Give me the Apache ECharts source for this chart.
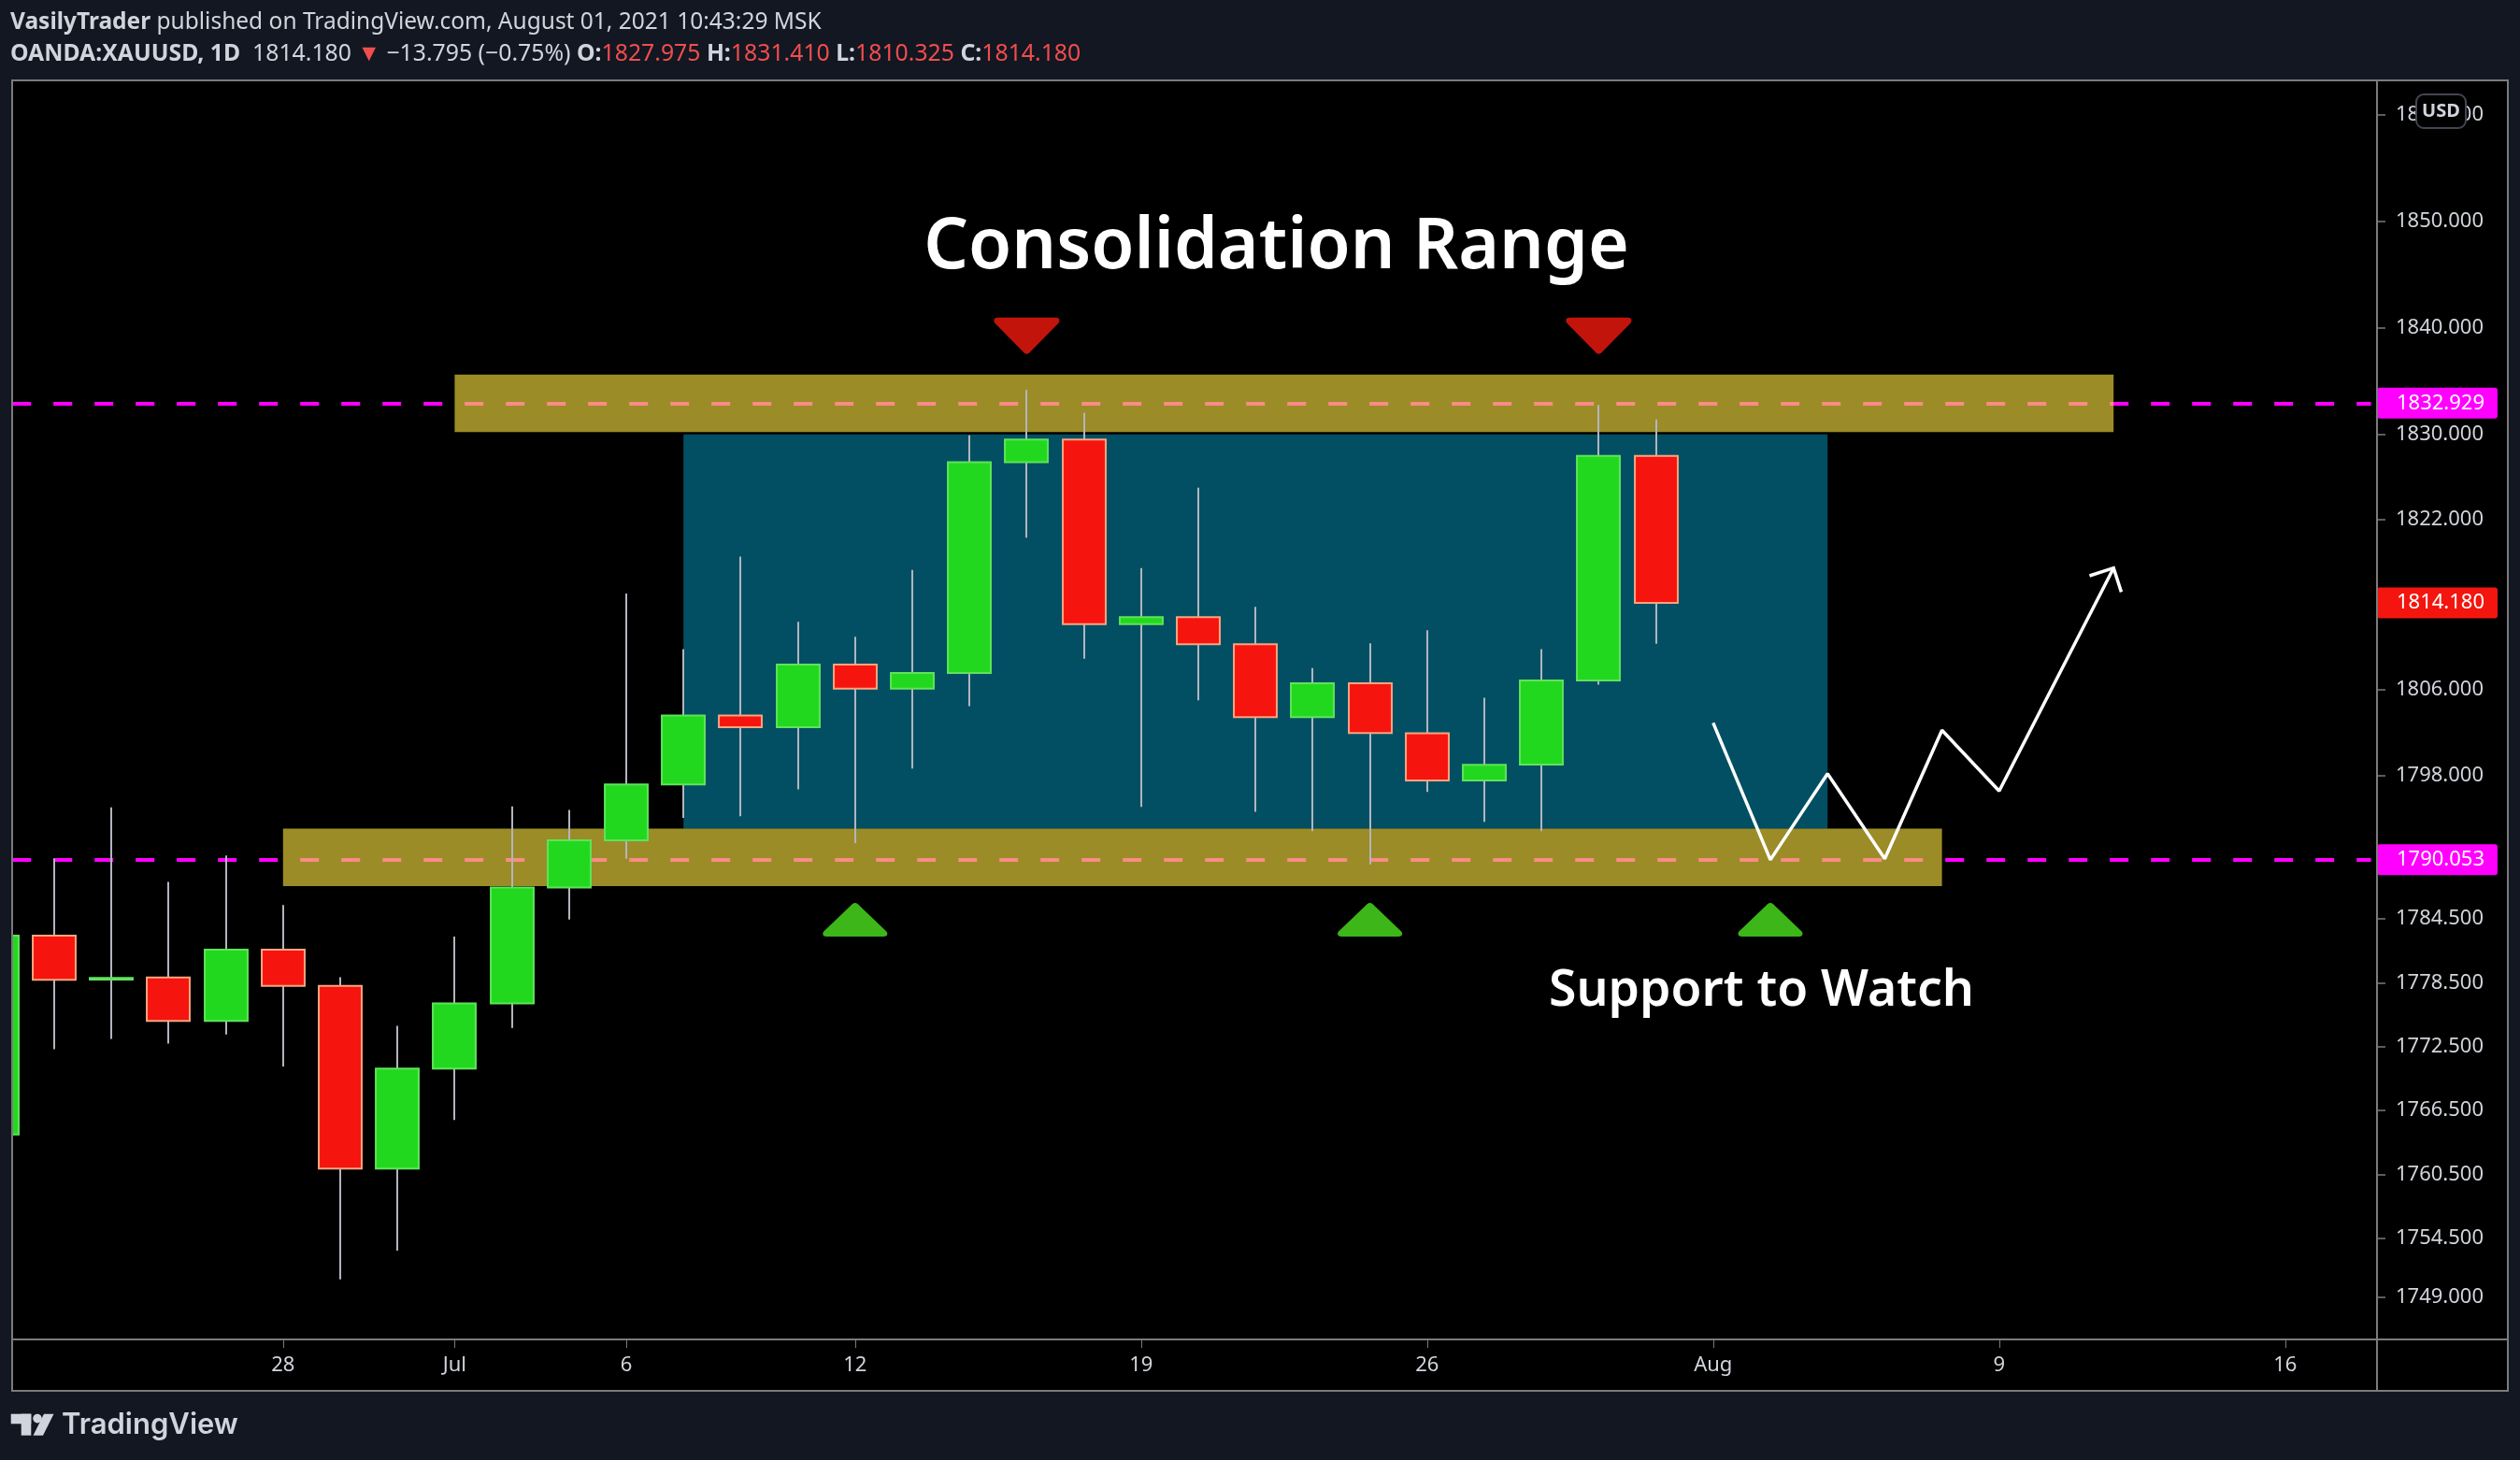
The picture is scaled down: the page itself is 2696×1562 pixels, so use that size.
<!DOCTYPE html>
<html><head><meta charset="utf-8">
<script src="https://cdn.jsdelivr.net/npm/echarts@6.0.0/dist/echarts.min.js"></script>
<style>html,body{margin:0;padding:0;background:#131722;}#chart{width:2696px;height:1562px;}</style>
</head><body><div id="chart"></div>
<script>
// ---- categories (trading days, incl. future area) ----
const categories = [
  '2021-06-21','2021-06-22','2021-06-23','2021-06-24','2021-06-25',
  '2021-06-28','2021-06-29','2021-06-30','2021-07-01','2021-07-02',
  '2021-07-05','2021-07-06','2021-07-07','2021-07-08','2021-07-09',
  '2021-07-12','2021-07-13','2021-07-14','2021-07-15','2021-07-16',
  '2021-07-19','2021-07-20','2021-07-21','2021-07-22','2021-07-23',
  '2021-07-26','2021-07-27','2021-07-28','2021-07-29','2021-07-30',
  '2021-08-02','2021-08-03','2021-08-04','2021-08-05','2021-08-06',
  '2021-08-09','2021-08-10','2021-08-11','2021-08-12','2021-08-13',
  '2021-08-16','2021-08-17'
];
// ---- OHLC (XAUUSD daily) ----
const candleDates = categories.slice(0, 30);
const opens  = [1764.25,1782.92,1778.80,1778.99,1774.91,1781.62,1778.22,1761.05,1770.44,1776.57,1787.44,1791.89,1797.13,1803.60,1802.50,1808.38,1806.12,1807.60,1827.38,1829.51,1812.17,1812.83,1810.30,1803.44,1806.62,1801.93,1797.49,1798.99,1806.90,1827.975];
const closes = [1782.92,1778.79,1778.95,1774.91,1781.62,1778.22,1761.05,1770.44,1776.57,1787.44,1791.89,1797.13,1803.60,1802.50,1808.38,1806.12,1807.60,1827.38,1829.51,1812.17,1812.83,1810.30,1803.44,1806.62,1801.96,1797.49,1798.96,1806.90,1827.98,1814.18];
const lows   = [1762.40,1772.26,1773.22,1772.79,1773.65,1770.64,1750.66,1753.35,1765.62,1774.25,1784.45,1790.14,1793.98,1794.14,1796.67,1791.61,1798.61,1804.48,1820.29,1808.94,1795.02,1805.02,1794.55,1792.74,1789.62,1796.42,1793.61,1792.74,1806.50,1810.325];
const highs  = [1785.10,1790.18,1794.97,1787.98,1790.45,1785.81,1779.02,1774.45,1782.85,1795.07,1794.73,1815.05,1809.83,1818.52,1812.39,1811.00,1817.26,1829.90,1834.18,1832.03,1817.45,1825.00,1813.81,1808.06,1810.37,1811.60,1805.26,1809.83,1832.77,1831.41];
// ---- axis ticks ----
const xTickDates = ['2021-06-28','2021-07-01','2021-07-06','2021-07-12','2021-07-19','2021-07-26','2021-08-02','2021-08-09','2021-08-16'];
const xTickTexts = ['28','Jul','6','12','19','26','Aug','9','16'];
const yTickValues = [1860,1850,1840,1830,1822,1806,1798,1784.5,1778.5,1772.5,1766.5,1760.5,1754.5,1749];
// ---- levels & drawings ----
const priceLevels = [1832.929, 1790.053];
const lastPrice = 1814.18;
const resistanceZone = ['2021-07-01','2021-08-11',1830.22,1835.62];
const supportZone    = ['2021-06-28','2021-08-06',1787.59,1792.98];
const rangeBox       = ['2021-07-07','2021-08-04',1792.98,1829.99];
const topMarkDates = ['2021-07-15','2021-07-29'];
const topMarkValue = 1839.26;
const bottomMarkDates = ['2021-07-12','2021-07-23','2021-08-03'];
const bottomMarkValue = 1784.42;
const projDates  = ['2021-08-02','2021-08-03','2021-08-04','2021-08-05','2021-08-06','2021-08-09','2021-08-11'];
const projValues = [1802.91,1790.05,1798.14,1790.14,1802.22,1796.51,1817.45];

const candleData = candleDates.map((d, i) => [d, opens[i], closes[i], lows[i], highs[i]]);

const FONT = "'Noto Sans', sans-serif";
const TXT = '#d1d4dc';
const GRID = '#7b7b7b';

function renderCandle(params, api) {
  const xi = api.value(0);
  const o = api.value(1), c = api.value(2), l = api.value(3), h = api.value(4);
  const pO = api.coord([xi, o]), pC = api.coord([xi, c]);
  const pL = api.coord([xi, l]), pH = api.coord([xi, h]);
  const bw = api.size([1, 0])[0] * 0.75;
  const up = c >= o;
  const top = Math.min(pO[1], pC[1]);
  const hgt = Math.max(Math.abs(pO[1] - pC[1]), 0.5);
  const cx = Math.round(pO[0]);
  return {
    type: 'group',
    children: [
      {type: 'line', shape: {x1: cx, y1: pH[1], x2: cx, y2: pL[1]}, style: {stroke: '#b2b5be', lineWidth: 2}},
      {type: 'rect', shape: {x: cx - bw / 2, y: top, width: bw, height: hgt},
       style: {fill: up ? '#22d81e' : '#f5140e', stroke: up ? '#5fe35b' : '#f8a57f', lineWidth: 2}}
    ]
  };
}

function renderArrowHead(params, api) {
  const n = projDates.length;
  const tip = api.coord([categories.indexOf(projDates[n - 1]), projValues[n - 1]]);
  const prev = api.coord([categories.indexOf(projDates[n - 2]), projValues[n - 2]]);
  let dx = prev[0] - tip[0], dy = prev[1] - tip[1];
  const len = Math.hypot(dx, dy); dx /= len; dy /= len;
  const L = 27, a = Math.PI / 4;
  const rot = (ang) => [tip[0] + L * (dx * Math.cos(ang) - dy * Math.sin(ang)), tip[1] + L * (dx * Math.sin(ang) + dy * Math.cos(ang))];
  return {type: 'polyline', shape: {points: [rot(a), tip, rot(-a)]}, style: {stroke: '#ffffff', lineWidth: 3.5, fill: null, lineJoin: 'miter'}};
}

const downTri = 'path://M4,0 L66,0 C70,0 71,3 69,6 L38,38 C36,40 34,40 32,38 L1,6 C-1,3 0,0 4,0 Z';
const upTri = 'path://M32,2 C34,0 36,0 38,2 L69,34 C71,37 70,40 66,40 L4,40 C0,40 -1,37 1,34 Z';

const chart = echarts.init(document.getElementById('chart'), null, {renderer: 'canvas'});
chart.setOption({
  backgroundColor: '#131722',
  animation: false,
  grid: {left: -33.8, right: 159.4, top: 86, bottom: 129, containLabel: false, outerBoundsMode: 'none'},
  xAxis: {
    type: 'category', data: categories, boundaryGap: true,
    axisLine: {show: false},
    axisTick: {show: true, alignWithLabel: true, length: 9, lineStyle: {color: GRID, width: 1},
      interval: (i, v) => xTickDates.indexOf(v) >= 0},
    axisLabel: {show: true, color: TXT, fontSize: 22, fontFamily: FONT, margin: 17,
      interval: (i, v) => xTickDates.indexOf(v) >= 0,
      formatter: (v) => { const k = xTickDates.indexOf(v); return k >= 0 ? xTickTexts[k] : ''; }},
    splitLine: {show: false}
  },
  yAxis: {
    type: 'value', position: 'right', offset: 6.4, min: 1745.01, max: 1863.24, scale: true,
    axisLine: {show: false},
    axisTick: {show: true, length: 9, lineStyle: {color: GRID, width: 1.5}, customValues: yTickValues},
    axisLabel: {show: true, color: TXT, fontSize: 22, fontFamily: FONT, margin: 20,
      customValues: yTickValues, formatter: (v) => Number(v).toFixed(3)},
    splitLine: {show: false}
  },
  series: [
    {
      type: 'custom', name: 'XAUUSD', renderItem: renderCandle, data: candleData,
      encode: {x: 0, y: [1, 2, 3, 4]}, z: 4, clip: false, silent: true,
      markArea: {silent: true, z: 1, label: {show: false}, itemStyle: {color: '#024f63'},
        data: [[{xAxis: rangeBox[0], yAxis: rangeBox[3]}, {xAxis: rangeBox[1], yAxis: rangeBox[2]}]]},
      markLine: {
        silent: true, z: 2, symbol: ['none', 'none'], animation: false, precision: 3,
        lineStyle: {color: '#ff00ff', width: 4, type: [20, 24], dashOffset: 41},
        label: {show: true, position: 'end', distance: 6.4,
          color: '#ffffff', backgroundColor: '#ff00ff', fontSize: 22, fontFamily: FONT,
          padding: [6, 14, 5, 21], borderRadius: 3},
        emphasis: {disabled: true},
        data: [
          {yAxis: priceLevels[0], label: {formatter: priceLevels[0].toFixed(3)}},
          {yAxis: priceLevels[1], label: {formatter: priceLevels[1].toFixed(3)}},
          {yAxis: lastPrice, lineStyle: {color: 'rgba(0,0,0,0)'}, label: {formatter: lastPrice.toFixed(3), backgroundColor: '#f4150f'}}
        ]
      }
    },
    {
      type: 'line', name: 'projection', data: projDates.map((d, i) => [d, projValues[i]]),
      showSymbol: false, symbol: 'none', z: 5, silent: true,
      lineStyle: {color: '#ffffff', width: 3.5}, itemStyle: {color: '#ffffff'},
      markArea: {silent: true, z: 3, label: {show: false}, itemStyle: {color: 'rgba(246,221,61,0.63)'},
        data: [
          [{xAxis: resistanceZone[0], yAxis: resistanceZone[3]}, {xAxis: resistanceZone[1], yAxis: resistanceZone[2]}],
          [{xAxis: supportZone[0], yAxis: supportZone[3]}, {xAxis: supportZone[1], yAxis: supportZone[2]}]
        ]}
    },
    {
      type: 'custom', name: 'arrowhead', renderItem: renderArrowHead,
      data: [[projDates[projDates.length - 1], projValues[projValues.length - 1]]],
      encode: {x: 0, y: 1}, z: 5, silent: true, clip: false
    },
    {
      type: 'scatter', name: 'tops', data: topMarkDates.map(d => [d, topMarkValue]),
      symbol: downTri, symbolSize: [70, 39], itemStyle: {color: '#f4190e'}, z: 5, silent: true
    },
    {
      type: 'scatter', name: 'bottoms', data: bottomMarkDates.map(d => [d, bottomMarkValue]),
      symbol: upTri, symbolSize: [69, 36], itemStyle: {color: '#4be41e'}, z: 5, silent: true
    }
  ],
  graphic: [
    {type: 'rect', z: -10, silent: true, shape: {x: 13, y: 86, width: 2670, height: 1402}, style: {fill: '#000000'}},
    {type: 'rect', z: 100, silent: true, shape: {x: 0, y: 80, width: 12, height: 1420}, style: {fill: '#131722'}},
    {type: 'rect', z: 101, silent: true, shape: {x: 13, y: 86, width: 2670, height: 1402}, style: {fill: null, stroke: GRID, lineWidth: 2}},
    {type: 'line', z: 101, silent: true, shape: {x1: 13, y1: 1433, x2: 2683, y2: 1433}, style: {stroke: GRID, lineWidth: 2}},
    {type: 'line', z: 101, silent: true, shape: {x1: 2543, y1: 86, x2: 2543, y2: 1488}, style: {stroke: GRID, lineWidth: 2}},
    // header
    {type: 'text', z: 101, silent: true, x: 11, y: 24, style: {
      text: '{b|VasilyTrader} published on TradingView.com, August 01, 2021 10:43:29 MSK',
      fill: TXT, fontSize: 24.5, fontFamily: FONT, verticalAlign: 'middle', align: 'left',
      rich: {b: {fontWeight: 'bold', fill: TXT, fontSize: 24.5, fontFamily: FONT}}}},
    {type: 'text', z: 101, silent: true, x: 11, y: 58, style: {
      text: '{b|OANDA:XAUUSD, 1D}  1814.180 {r|\u25BC} \u221213.795 (\u22120.75%) {b|O:}{r|1827.975} {b|H:}{r|1831.410} {b|L:}{r|1810.325} {b|C:}{r|1814.180}',
      fill: TXT, fontSize: 24.8, fontFamily: FONT, verticalAlign: 'middle', align: 'left',
      rich: {b: {fontWeight: 'bold', fill: TXT, fontSize: 24.8, fontFamily: FONT},
             r: {fill: '#f04e4e', fontSize: 24.8, fontFamily: FONT}}}},
    // annotations
    {type: 'text', z: 60, silent: true, x: 1365.5, y: 266, style: {
      text: 'Consolidation Range', fill: '#ffffff', fontSize: 75, fontWeight: 600, fontFamily: FONT, align: 'center', verticalAlign: 'middle'}},
    {type: 'text', z: 60, silent: true, x: 1884.5, y: 1061, style: {
      text: 'Support to Watch', fill: '#ffffff', fontSize: 53.5, fontWeight: 600, fontFamily: FONT, align: 'center', verticalAlign: 'middle'}},
    // USD badge
    {type: 'rect', z: 102, silent: true, shape: {x: 2585, y: 101, width: 53, height: 36, r: 8}, style: {fill: '#000000', stroke: '#434651', lineWidth: 2}},
    {type: 'text', z: 103, silent: true, x: 2611.5, y: 119, style: {text: 'USD', fill: TXT, fontSize: 20, fontWeight: 'bold', fontFamily: FONT, align: 'center', verticalAlign: 'middle'}},
    // TradingView logo
    {type: 'rect', z: 101, silent: true, shape: {x: 11.7, y: 1512.7, width: 21.6, height: 10.6}, style: {fill: TXT}},
    {type: 'rect', z: 101, silent: true, shape: {x: 22.7, y: 1512.7, width: 10.6, height: 23}, style: {fill: TXT}},
    {type: 'circle', z: 101, silent: true, shape: {cx: 40, cy: 1517.6, r: 4.8}, style: {fill: TXT}},
    {type: 'polygon', z: 101, silent: true, shape: {points: [[47, 1512.7], [57.5, 1512.7], [46, 1535.7], [35.5, 1535.7]]}, style: {fill: TXT}},
    {type: 'text', z: 101, silent: true, x: 66, y: 1525, style: {text: 'TradingView', fill: TXT, fontSize: 31, fontWeight: 600, fontFamily: "Inter, 'Noto Sans', sans-serif", align: 'left', verticalAlign: 'middle'}}
  ]
});
</script></body></html>
